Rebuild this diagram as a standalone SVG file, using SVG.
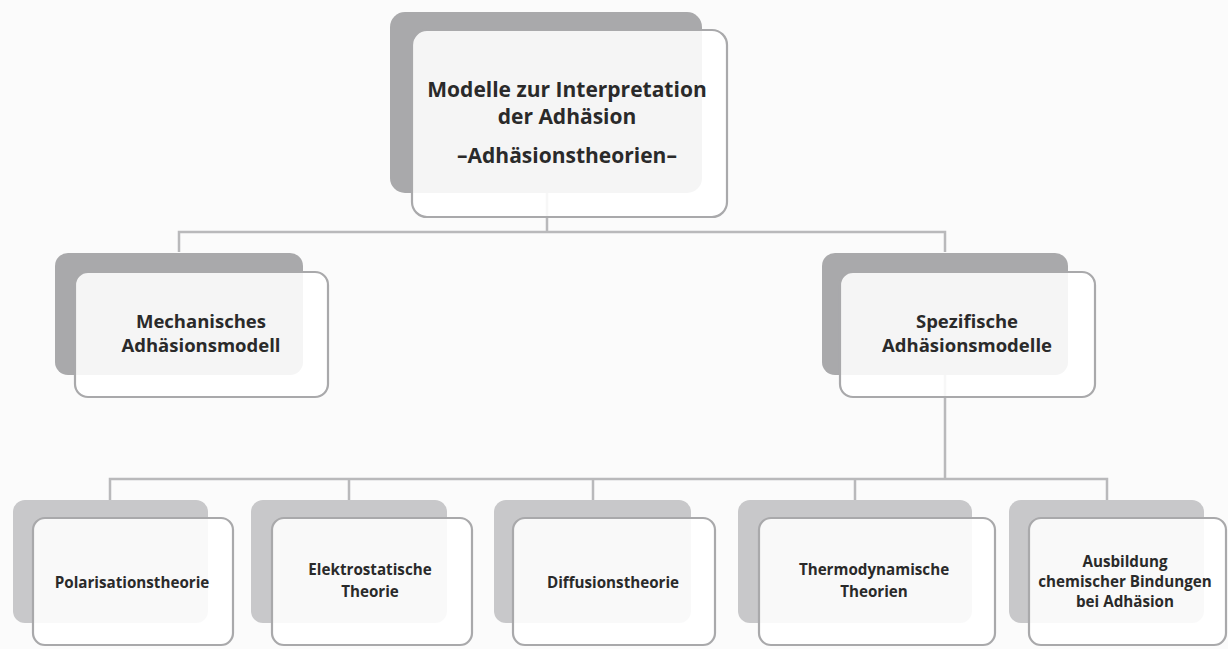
<svg xmlns="http://www.w3.org/2000/svg" width="1228" height="649" viewBox="0 0 1228 649">
<style>
.bg{fill:#fbfbfb}
.conn{stroke:#b9b9bb;stroke-width:2.5;fill:none}
.backD{fill:#a9a9ab}
.backL{fill:#c8c8ca}
.front{fill:#ffffff;fill-opacity:0.88;stroke:#a9a9ab;stroke-width:2.2}
text{font-family:"Open Sans","Liberation Sans",sans-serif;font-weight:700;fill:#2a2a2a;text-anchor:middle}
.t1{font-size:21px}
.t2{font-size:18.5px}
.t3{font-size:15.2px}
</style>
<rect class="bg" x="0" y="0" width="1228" height="649"/>
<g id="connectors">
<path class="conn" d="M547 193V232M179 252V232H945V252"/>
<path class="conn" d="M945 375V479M110 500V479H1107V500M349 479V500M593 479V500M855 479V500"/>
</g>
<g id="n-root">
<rect class="backD" x="390" y="12" width="312" height="181" rx="15"/>
<rect class="front" x="412" y="30" width="315" height="187" rx="15"/>
<text class="t1" x="567" y="97">Modelle zur Interpretation</text>
<text class="t1" x="567" y="124">der Adhäsion</text>
<text class="t1" x="567" y="163">–Adhäsionstheorien–</text>
</g>
<g id="n-mech">
<rect class="backD" x="55" y="253" width="248" height="122" rx="13"/>
<rect class="front" x="75" y="272" width="253" height="125" rx="13"/>
<text class="t2" x="201" y="328">Mechanisches</text>
<text class="t2" x="201" y="352">Adhäsionsmodell</text>
</g>
<g id="n-spez">
<rect class="backD" x="822" y="253" width="246" height="122" rx="13"/>
<rect class="front" x="840" y="272" width="255" height="125" rx="13"/>
<text class="t2" x="967" y="328">Spezifische</text>
<text class="t2" x="967" y="352">Adhäsionsmodelle</text>
</g>
<g id="n-polar">
<rect class="backL" x="13" y="500" width="195" height="123" rx="12"/>
<rect class="front" x="33" y="518" width="200" height="127" rx="12"/>
<text class="t3" x="132" y="588">Polarisationstheorie</text>
</g>
<g id="n-elektro">
<rect class="backL" x="251" y="500" width="196" height="123" rx="12"/>
<rect class="front" x="272" y="518" width="200" height="127" rx="12"/>
<text class="t3" x="370" y="575">Elektrostatische</text>
<text class="t3" x="370" y="597">Theorie</text>
</g>
<g id="n-diff">
<rect class="backL" x="494" y="500" width="197" height="123" rx="12"/>
<rect class="front" x="513" y="518" width="202" height="127" rx="12"/>
<text class="t3" x="613" y="588">Diffusionstheorie</text>
</g>
<g id="n-thermo">
<rect class="backL" x="738" y="500" width="234" height="123" rx="12"/>
<rect class="front" x="759" y="518" width="236" height="127" rx="12"/>
<text class="t3" x="874" y="575">Thermodynamische</text>
<text class="t3" x="874" y="597">Theorien</text>
</g>
<g id="n-chem">
<rect class="backL" x="1009" y="500" width="195" height="123" rx="12"/>
<rect class="front" x="1029" y="518" width="197" height="127" rx="12"/>
<text class="t3" x="1125" y="567">Ausbildung</text>
<text class="t3" x="1125" y="587">chemischer Bindungen</text>
<text class="t3" x="1125" y="607">bei Adhäsion</text>
</g>
</svg>
